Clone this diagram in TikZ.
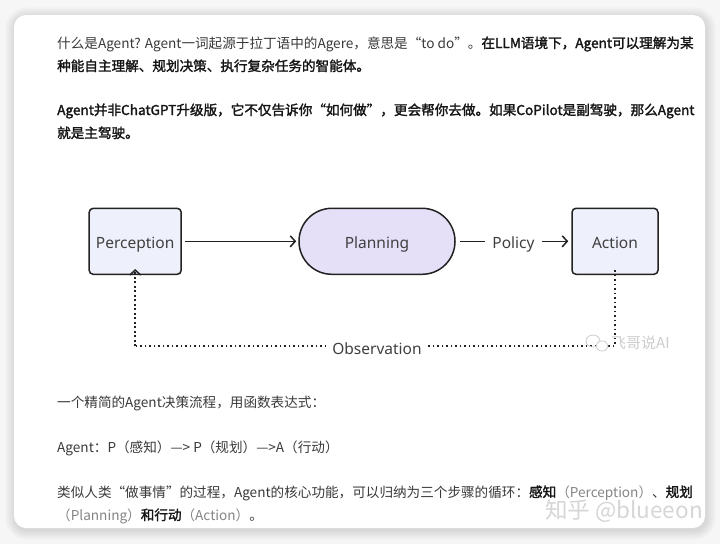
\documentclass[tikz,border=0pt]{standalone}
\usepackage{fontspec}
\setmainfont{Noto Sans CJK SC}
\newfontfamily\bdfont[FakeBold=1.8]{Noto Sans CJK SC}
\newfontfamily\diagfont{Noto Sans}
\usetikzlibrary{arrows.meta}
\definecolor{bgc}{HTML}{F6F6F6}
\definecolor{txt}{HTML}{3A3A3A}
\definecolor{txtb}{HTML}{151515}
\definecolor{gry}{HTML}{858585}
\definecolor{boxfill}{HTML}{EEF0FB}
\definecolor{planfill}{HTML}{E5E0F8}
\definecolor{edge}{HTML}{222222}
\definecolor{lbl}{HTML}{404040}
\definecolor{wm}{HTML}{CDCDCD}
\definecolor{wmz}{HTML}{D6D6D6}
\newcommand{\bd}[1]{{\bdfont\color{txtb}#1}}
\newcommand{\gy}[1]{{\color{gry}#1}}
\begin{document}
\begin{tikzpicture}[x=1pt,y=-1pt,
  body/.style={anchor=base west,inner sep=0pt,font=\fontsize{13.6}{16}\selectfont,text=txt},
  dlabel/.style={font=\diagfont\fontsize{15.5}{17}\selectfont,text=lbl,text height=14pt,text depth=0pt},
  proc/.style={dlabel,draw=edge,line width=1.5pt,fill=boxfill,rounded corners=4pt,
    minimum height=66pt,inner sep=0pt},
  plan/.style={dlabel,draw=edge,line width=1.5pt,fill=planfill,rounded corners=32.9pt,
    minimum height=66pt,minimum width=156pt,inner sep=0pt},
  lblnode/.style={dlabel,fill=white,inner xsep=7pt,inner ysep=1pt},
  arr/.style={draw=edge,line width=1.5pt,-{Straight Barb[length=5pt,width=11pt,line width=1.5pt]}},
  plainline/.style={draw=edge,line width=1.5pt},
  dotline/.style={draw=edge,line width=1.8pt,dash pattern=on 1.6pt off 2.9pt},
  wmark/.style={text=wm,inner sep=0pt}
]
\useasboundingbox (0,0) rectangle (720,544);
\fill[bgc] (0,0) rectangle (720,544);
% shadow
\foreach \k in {1,...,10}{
  \fill[black,opacity=0.011,rounded corners={12pt+\k pt}] (14-\k+1,15-\k+2) rectangle (705+\k+1,528+\k+2);
}
% card
\fill[white,rounded corners=12pt] (14,15) rectangle (705,528);

% top text
\node[body] (t1) at (57,48) {什么是Agent? Agent一词起源于拉丁语中的Agere，意思是“to do”。\bd{在LLM语境下，Agent可以理解为某}};
\node[body] (t2) at (57,71) {\bd{种能自主理解、规划决策、执行复杂任务的智能体。}};
\node[body] (t3) at (57,115) {\bd{Agent并非ChatGPT升级版，它不仅告诉你“如何做”，更会帮你去做。如果CoPilot是副驾驶，那么Agent}};
\node[body] (t4) at (57,138) {\bd{就是主驾驶。}};

% diagram
\node[proc,minimum width=92pt] (perc) at (135.2,241.3) {Perception};
\node[plan] (plan) at (377,241.3) {Planning};
\node[proc,minimum width=86pt] (act) at (615,241.3) {Action};
\draw[arr] ([xshift=3pt]perc.east) -- ([xshift=-2pt]plan.west);
\node[lblnode] (pol) at (513.5,241.3) {Policy};
\draw[plainline] ([xshift=4pt]plan.east) -- (pol.west);
\draw[arr] (pol.east) -- ([xshift=-3pt]act.west);

\coordinate (c1) at (615,346);
\coordinate (c2) at (135.2,346);
\draw[dotline] ([yshift=5pt]act.south) -- (c1) -- (c2);
\draw[dotline,-{Straight Barb[length=5pt,width=11pt,line width=1.5pt]}] (c2) -- ([yshift=6pt]perc.south);
\node[lblnode,inner xsep=6pt] (obs) at (377,347) {Observation};

% watermark 飞哥说AI
\draw[wm,line width=0.8pt] (593,341) ellipse (7pt and 6pt);
\draw[wm,line width=0.8pt,fill=white] (602,346) ellipse (6pt and 5pt);
\node[wmark,anchor=west,font=\fontsize{15}{17}\selectfont] (fg) at (611,343) {飞哥说AI};

% bottom text
\node[body] (b1) at (57,407) {一个精简的Agent决策流程，用函数表达式：};
\node[body] (b2) at (57,452) {Agent：P（感知）—> P（规划）—>A（行动）};
\node[body] (b3) at (57,497) {类似人类“做事情”的过程，Agent的核心功能，可以归纳为三个步骤的循环：\bd{感知}\gy{（Perception）}、\bd{规划}};
\node[body] (b4) at (57,520) {\gy{（Planning）}\bd{和行动}\gy{（Action）}。};

% watermark 知乎
\node[anchor=base east,inner sep=0pt,text=wmz,font=\fontsize{22.5}{24}\selectfont] (zh) at (703,518) {知乎 @blueeon};
\end{tikzpicture}
\end{document}
